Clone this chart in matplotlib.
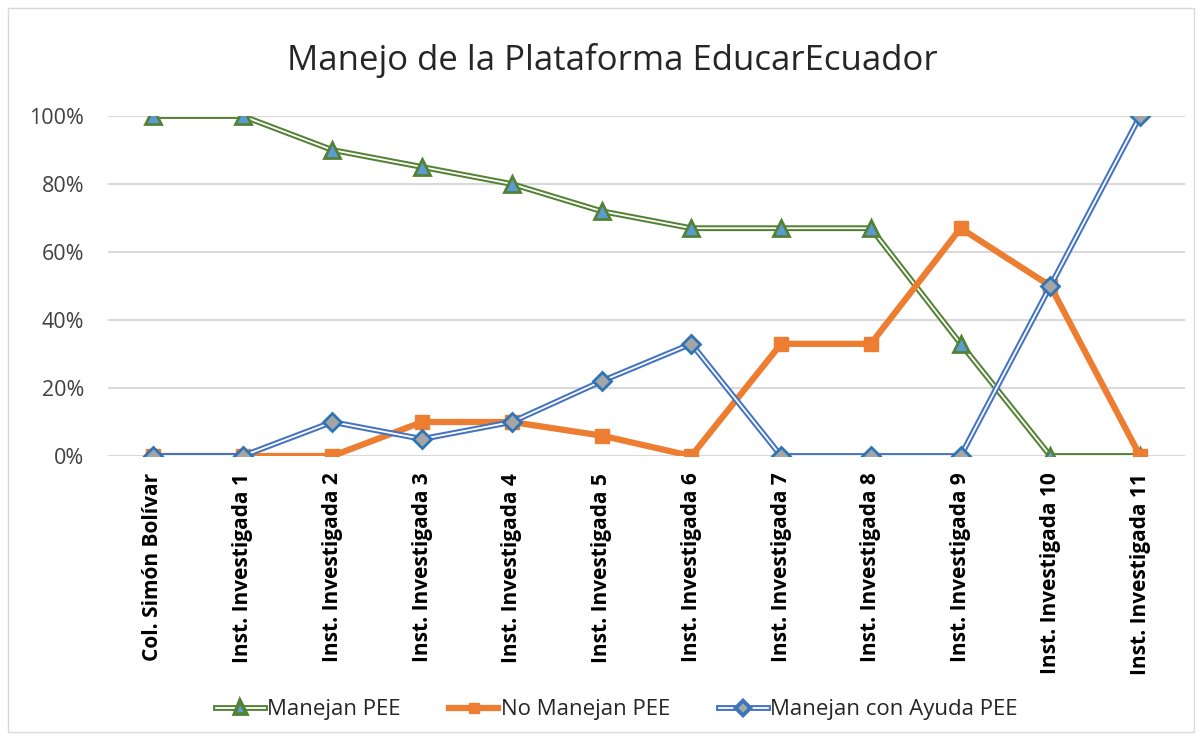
import numpy as np
import matplotlib.pyplot as plt
import matplotlib.patheffects as pe
from matplotlib.patches import Rectangle

plt.rcParams['font.family'] = ['Open Sans', 'DejaVu Sans']

# datos
instituciones = ['Col. Simón Bolívar'] + ['Inst. Investigada %d' % i for i in range(1, 12)]
manejan = [100, 100, 90, 85, 80, 72, 67, 67, 67, 33, 0, 0]
no_manejan = [0, 0, 0, 10, 10, 6, 0, 33, 33, 67, 50, 0]
con_ayuda = [0, 0, 10, 5, 10, 22, 33, 0, 0, 0, 50, 100]

verde = '#548235'
naranja = '#ED7D31'
azul = '#4472C4'

fig = plt.figure(figsize=(12.02, 7.4), dpi=100)
ax = fig.add_axes([108 / 1202, 1 - 456 / 740, (1185 - 108) / 1202, (456 - 116) / 740])

x = np.arange(len(instituciones))
m = np.array(manejan) / 100
n = np.array(no_manejan) / 100
a = np.array(con_ayuda) / 100

doble_v = [pe.Stroke(linewidth=4.2, foreground=verde), pe.Normal()]
doble_a = [pe.Stroke(linewidth=4.2, foreground=azul), pe.Normal()]

# orden de series como en Excel: verde, naranja, azul
ax.plot(x, m, color='white', lw=1.3, path_effects=doble_v, zorder=3)
ax.plot(x, m, ls='none', marker='^', ms=11, mfc='#5B9BD5', mec=verde, mew=2, zorder=3.1)
ax.plot(x, n, color=naranja, lw=4.5, marker='s', ms=10, mfc=naranja, mec=naranja, zorder=3.2)
ax.plot(x, a, color='white', lw=1.3, path_effects=doble_a, zorder=3.3)
ax.plot(x, a, ls='none', marker='D', ms=9, mfc='#A5A5A5', mec='#2E75B6', mew=2, zorder=3.4)

ax.set_xlim(-0.5, len(x) - 0.5)
ax.set_ylim(0, 1)
ax.set_yticks(np.arange(0, 1.01, 0.2))
ax.set_yticklabels(['%d%%' % v for v in range(0, 101, 20)], fontsize=15.5, color='#404040')
ax.set_xticks(x)
ax.set_xticklabels(instituciones, rotation=90, fontsize=15, fontweight='bold', color='black')
ax.tick_params(axis='y', length=0, pad=17)
ax.tick_params(axis='x', length=0, pad=12)
ax.grid(axis='y', color='#D9D9D9', lw=1.5)
ax.set_axisbelow(True)
for s in ax.spines.values():
    s.set_visible(False)

fig.text(0.509, 1 - 61 / 740, 'Manejo de la Plataforma EducarEcuador', ha='center', va='center',
         fontsize=25, color='#262626')

# leyenda con lineas dobles
h1, = ax.plot([], [], color='white', lw=1.3, path_effects=doble_v, marker='^', ms=7,
              mfc='#5B9BD5', mec=verde, mew=1.2)
h2, = ax.plot([], [], color=naranja, lw=4.5, marker='s', ms=7, mfc=naranja, mec=naranja)
h3, = ax.plot([], [], color='white', lw=1.3, path_effects=doble_a, marker='D', ms=6,
              mfc='#A5A5A5', mec='#2E75B6', mew=1.2)
fig.legend([h1, h2, h3], ['Manejan PEE', 'No Manejan PEE', 'Manejan con Ayuda PEE'],
           loc='center', bbox_to_anchor=(0.513, 1 - 710 / 740), ncol=3, frameon=False,
           fontsize=16, handlelength=2.2, columnspacing=2.2, handletextpad=0.1,
           labelcolor='#262626')

fig.patches.append(Rectangle((8 / 1202, 8 / 740), 1 - 16 / 1202, 1 - 16 / 740, transform=fig.transFigure,
                             fill=False, edgecolor='#D9D9D9', lw=1))

fig.savefig('out.png', dpi=100)
